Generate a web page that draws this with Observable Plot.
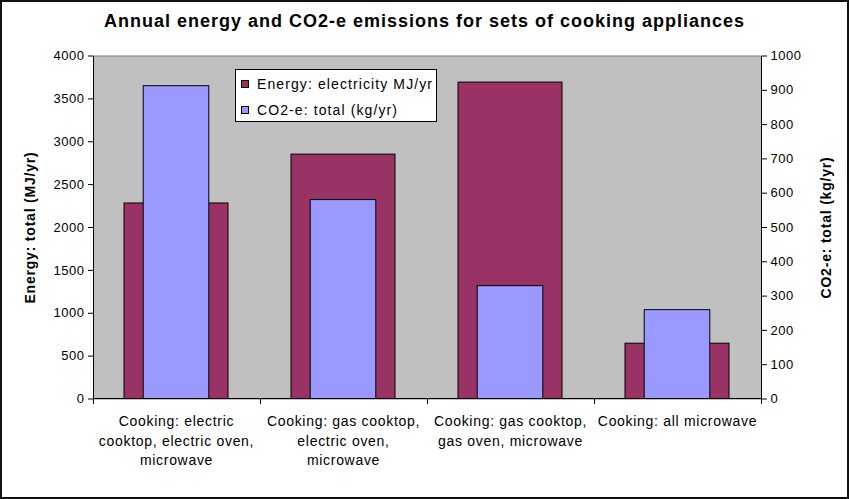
<!DOCTYPE html>
<html>
<head>
<meta charset="utf-8">
<script src="https://cdn.jsdelivr.net/npm/d3@7"></script>
<script src="https://cdn.jsdelivr.net/npm/@observablehq/plot@0.6"></script>
<style>
  body { margin: 0; background: #fff; font-family: "Liberation Sans", Arial, sans-serif; }
  #chart { position: relative; width: 849px; height: 499px; overflow: hidden; background: #fff; }
  #border { position: absolute; left: 0; top: 0; width: 849px; height: 499px; box-sizing: border-box; border: 2px solid #111; pointer-events: none; }
  #title { position: absolute; left: 0; top: 11px; width: 849px; text-align: center; font-weight: bold; font-size: 18px; letter-spacing: 1px; color: #000; }
  #plot { position: absolute; left: 0; top: 40px; }
  #legend { position: absolute; left: 235px; top: 69px; width: 200px; height: 51px; border: 1px solid #000; background: #fff; font-size: 14px; letter-spacing: 1.1px; color: #000; }
  .item { position: absolute; left: 5px; height: 16px; line-height: 16px; white-space: nowrap; }
  .sw { display: inline-block; width: 6px; height: 6px; border: 1px solid #000; margin-right: 8px; vertical-align: middle; position: relative; top: -1px; }
  #plot svg [aria-label="y-axis tick label"] text { letter-spacing: 0.5px; }
  #plot svg [aria-label="x-axis tick label"] text { letter-spacing: 0.7px; }
  #plot svg [aria-label="text"] text { letter-spacing: 0.8px; }
</style>
</head>
<body>
<div id="chart">
  <div id="title"></div>
  <div id="plot"></div>
  <div id="legend"></div>
  <div id="border"></div>
</div>
<script>
// Appliance sets and their annual totals
const categories = [
  "Cooking: electric\ncooktop, electric oven,\nmicrowave",
  "Cooking: gas cooktop,\nelectric oven,\nmicrowave",
  "Cooking: gas cooktop,\ngas oven, microwave",
  "Cooking: all microwave"
];
const energy = [2280, 2850, 3690, 645];   // MJ/yr (left axis)
const co2 = [912, 580, 329, 259];         // kg/yr (right axis)
const leftTicks = [0, 500, 1000, 1500, 2000, 2500, 3000, 3500, 4000];
const rightTicks = [0, 100, 200, 300, 400, 500, 600, 700, 800, 900, 1000];

const titleText = "Annual energy and CO2-e emissions for sets of cooking appliances";
const leftLabel = "Energy: total (MJ/yr)";
const rightLabel = "CO2-e: total (kg/yr)";
const seriesNames = ["Energy: electricity MJ/yr", "CO2-e: total (kg/yr)"];
const colors = ["#993366", "#9999ff"];

// The right axis shares the y scale: kg/yr values are scaled onto the MJ/yr range
const ratio = leftTicks[leftTicks.length - 1] / rightTicks[rightTicks.length - 1];

const rows = categories.map((c, i) => ({category: c, energy: energy[i], co2: co2[i]}));

const W = 849, H = 455;
const margin = {left: 93, right: 88, top: 15.5, bottom: 96.5};
const step = (W - margin.left - margin.right) / categories.length;
const paddingInner = 0.375;
const blueShare = 0.395;
const inset = ((1 - paddingInner) - blueShare) / 2 * step;

// Axis lines, plus category-boundary tick marks below the baseline
function axisLines(index, scales, values, dims) {
  const x0 = dims.marginLeft, x1 = dims.width - dims.marginRight;
  const y0 = dims.marginTop, y1 = dims.height - dims.marginBottom;
  const g = d3.create("svg:g").attr("stroke", "#000").attr("fill", "none").attr("shape-rendering", "crispEdges");
  g.append("line").attr("x1", x0).attr("x2", x0).attr("y1", y0).attr("y2", y1);
  g.append("line").attr("x1", x1).attr("x2", x1).attr("y1", y0).attr("y2", y1);
  g.append("line").attr("x1", x0).attr("x2", x1).attr("y1", y1).attr("y2", y1);
  const s = (x1 - x0) / categories.length;
  for (let i = 0; i <= categories.length; i++) {
    const x = x0 + i * s;
    g.append("line").attr("x1", x).attr("x2", x).attr("y1", y1).attr("y2", y1 + 5);
  }
  return g.node();
}

const chart = Plot.plot({
  width: W,
  height: H,
  marginLeft: margin.left,
  marginRight: margin.right,
  marginTop: margin.top,
  marginBottom: margin.bottom,
  style: {fontFamily: "'Liberation Sans', Arial, sans-serif", fontSize: "13px", color: "#000", background: "transparent"},
  x: {type: "band", domain: categories, paddingInner, paddingOuter: paddingInner / 2, align: 0.5},
  y: {domain: [0, leftTicks[leftTicks.length - 1]]},
  marks: [
    Plot.frame({fill: "#c0c0c0", stroke: "#808080"}),
    Plot.barY(rows, {x: "category", y: "energy", fill: colors[0], stroke: "#000", strokeWidth: 1}),
    Plot.barY(rows, {x: "category", y: d => d.co2 * ratio, fill: colors[1], stroke: "#000", strokeWidth: 1, insetLeft: inset, insetRight: inset}),
    axisLines,
    Plot.axisY(leftTicks, {anchor: "left", tickSize: 5, tickPadding: 4, fontSize: 13, tickFormat: d => `${d}`, label: null}),
    Plot.axisY(rightTicks.map(v => v * ratio), {anchor: "right", tickSize: 5, tickPadding: 4, fontSize: 13, tickFormat: d => `${Math.round(d / ratio)}`, label: null}),
    Plot.axisX({tickSize: 0, tickPadding: 13, fontSize: 14, lineHeight: 1.4, label: null}),
    Plot.text([leftLabel], {frameAnchor: "left", textAnchor: "middle", dx: -63, rotate: -90, fontWeight: "bold", fontSize: 14, fill: "#000"}),
    Plot.text([rightLabel], {frameAnchor: "right", textAnchor: "middle", dx: 65, rotate: -90, fontWeight: "bold", fontSize: 14, fill: "#000"})
  ]
});
document.getElementById("plot").appendChild(chart);
document.getElementById("title").textContent = titleText;

const legend = document.getElementById("legend");
seriesNames.forEach((name, i) => {
  const item = document.createElement("div");
  item.className = "item";
  item.style.top = (6 + i * 25.5) + "px";
  const sw = document.createElement("span");
  sw.className = "sw";
  sw.style.background = colors[i];
  item.appendChild(sw);
  item.appendChild(document.createTextNode(name));
  legend.appendChild(item);
});
</script>
</body>
</html>
